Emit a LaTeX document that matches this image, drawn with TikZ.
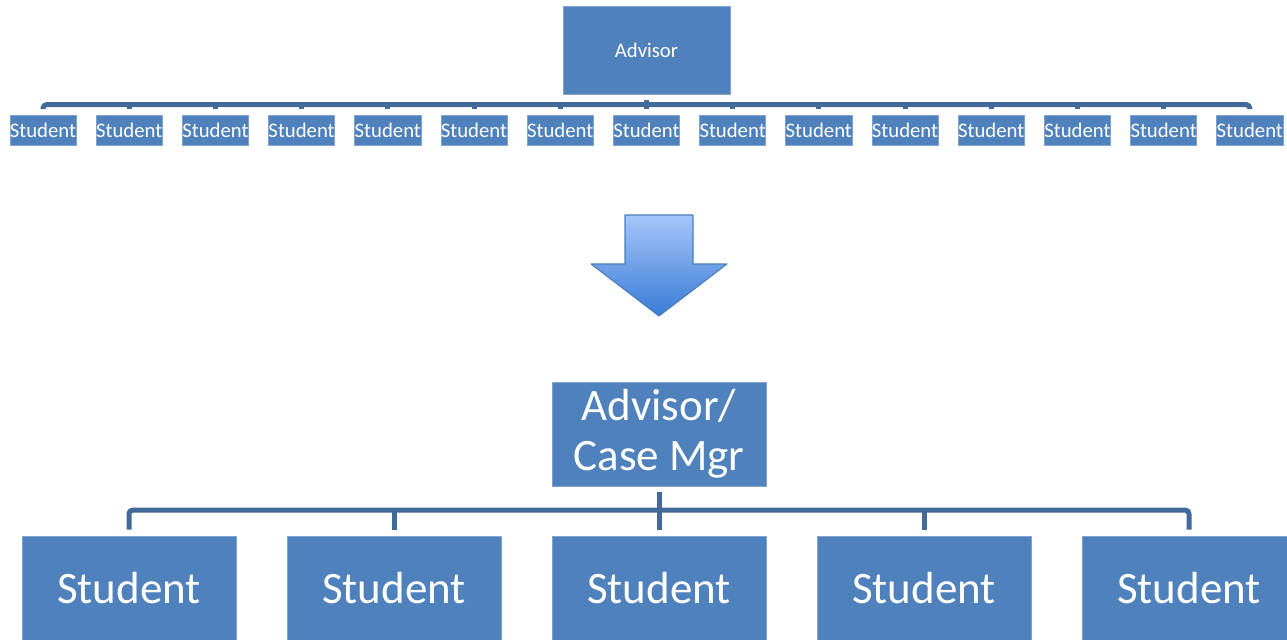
\documentclass[tikz,border=0pt]{standalone}
\usepackage{fontspec}
\setmainfont{Carlito}
\usetikzlibrary{positioning}
\definecolor{boxblue}{HTML}{4F81BD}
\definecolor{boxedge}{HTML}{7FA3D3}
\definecolor{linkblue}{HTML}{41699A}
\definecolor{arrowtop}{HTML}{A4C6FA}
\definecolor{arrowbot}{HTML}{3A7BD5}
\definecolor{arrowedge}{HTML}{4A7EBB}
\tikzset{
  unit/.style={fill=boxblue,draw=boxedge,line width=0.4pt,text=white,inner sep=0pt,align=center},
  smallunit/.style={unit,minimum width=1.32cm,minimum height=0.6cm,font=\fontsize{11.8}{13}\selectfont},
  bigunit/.style={unit,minimum width=4.28cm,minimum height=2.08cm,font=\fontsize{25.6}{28.5}\selectfont},
  link/.style={draw=linkblue,line width=0.1cm,rounded corners=2pt}
}
\begin{document}
\begin{tikzpicture}[x=0.02cm,y=-0.02cm,line join=round]
\useasboundingbox (0,0) rectangle (1287,639);
\clip (0,0) rectangle (1287,639);
% before: one advisor, many students
\node[smallunit,minimum width=3.34cm,minimum height=1.76cm] (adv) at (646.5,50) {Advisor};
\foreach \i in {1,...,15}
  \node[smallunit] (s\i) at ({43+86.2*(\i-1)},130.5) {Student};
\draw[link] ([yshift=.12cm]s1.north) -- ++(0,-4.5) -| ([yshift=.12cm]s15.north);
\foreach \i in {2,...,14}
  \draw[link] ([yshift=.12cm]s\i.north) -- ++(0,-4.5);
\draw[link] ([yshift=-.12cm]adv.south) -- ++(0,4.5);
% arrow
\path[top color=arrowtop,bottom color=arrowbot,draw=arrowedge,line width=0.6pt]
  (625,215) -- (693,215) -- (693,264) -- (727,264) -- (659,316) -- (591,264) -- (625,264) -- cycle;
% after: case manager, few students
\node[bigunit] (mgr) at (659,434) {Advisor/\\Case Mgr};
\foreach \i in {1,...,5}
  \node[bigunit] (c\i) at ({129+265*(\i-1)},588) {Student};
\draw[link] ([yshift=.12cm]c1.north) -- ++(0,-19.5) -| ([yshift=.12cm]c5.north);
\foreach \i in {2,...,4}
  \draw[link] ([yshift=.12cm]c\i.north) -- ++(0,-19.5);
\draw[link] ([yshift=-.12cm]mgr.south) -- ++(0,18.5);
\end{tikzpicture}
\end{document}
